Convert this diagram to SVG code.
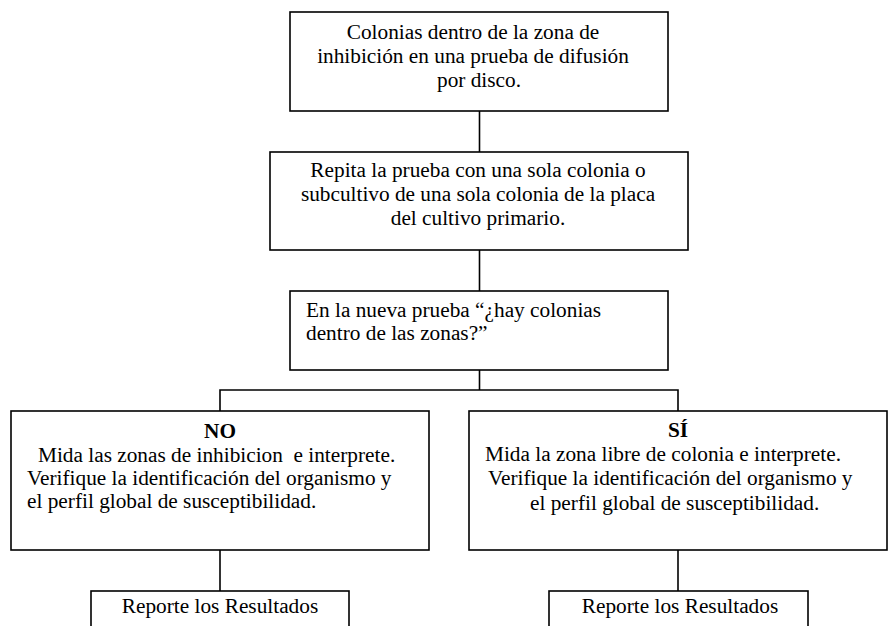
<svg xmlns="http://www.w3.org/2000/svg" width="890" height="626" viewBox="0 0 890 626">
<style>
.box{fill:#fff;stroke:#000;stroke-width:1.6}
.ln{fill:none;stroke:#000;stroke-width:1.6}
text{font-family:"Liberation Serif","Times New Roman",Times,serif;font-size:21.3px;fill:#000}
.c{text-anchor:middle}
.b{font-weight:bold}
</style>
<rect width="890" height="626" fill="#fff"/>
<g id="connectors">
<line class="ln" x1="479.5" y1="111" x2="479.5" y2="152"/>
<line class="ln" x1="479.5" y1="250" x2="479.5" y2="291"/>
<line class="ln" x1="479.5" y1="370" x2="479.5" y2="390"/>
<polyline class="ln" points="220,411 220,390 678,390 678,411"/>
<line class="ln" x1="220" y1="550" x2="220" y2="591"/>
<line class="ln" x1="678" y1="550" x2="678" y2="591"/>
</g>
<g id="n1">
<rect class="box" x="290" y="12" width="378" height="99"/>
<text class="c" x="473" y="39">Colonias dentro de la zona de</text>
<text class="c" x="473" y="63">inhibición en una prueba de difusión</text>
<text class="c" x="479" y="87">por disco.</text>
</g>
<g id="n2">
<rect class="box" x="270" y="152" width="418" height="98"/>
<text class="c" x="478" y="177">Repita la prueba con una sola colonia o</text>
<text class="c" x="478" y="201">subcultivo de una sola colonia de la placa</text>
<text class="c" x="478" y="225">del cultivo primario.</text>
</g>
<g id="n3">
<rect class="box" x="290" y="291" width="378" height="79"/>
<text x="306" y="317">En la nueva prueba “¿hay colonias</text>
<text x="306" y="340">dentro de las zonas?”</text>
</g>
<g id="n4">
<rect class="box" x="11" y="411" width="418" height="139"/>
<text class="c b" x="220" y="438">NO</text>
<text x="38" y="462" xml:space="preserve">Mida las zonas de inhibicion  e interprete.</text>
<text x="27" y="485">Verifique la identificación del organismo y</text>
<text x="27" y="508">el perfil global de susceptibilidad.</text>
</g>
<g id="n5">
<rect class="box" x="469" y="411" width="418" height="139"/>
<text class="c b" x="678" y="437">SÍ</text>
<text x="485" y="461">Mida la zona libre de colonia e interprete.</text>
<text x="488" y="485">Verifique la identificación del organismo y</text>
<text x="530" y="510">el perfil global de susceptibilidad.</text>
</g>
<g id="n6">
<rect class="box" x="91" y="591" width="258" height="45"/>
<text class="c" x="220" y="613">Reporte los Resultados</text>
</g>
<g id="n7">
<rect class="box" x="549" y="591" width="259" height="45"/>
<text class="c" x="680" y="613">Reporte los Resultados</text>
</g>
</svg>
